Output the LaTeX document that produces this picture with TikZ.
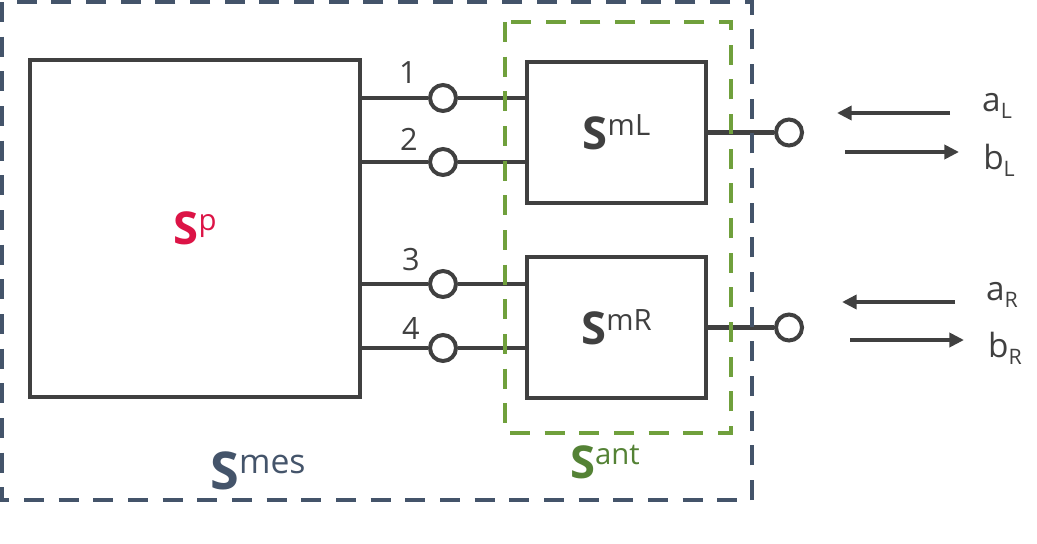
\documentclass[tikz,border=0pt]{standalone}
\usepackage{fontspec}
\setmainfont{Open Sans}
\usepackage{xcolor}
\usepackage{tikz}
\usetikzlibrary{positioning,arrows.meta}

\definecolor{dgray}{HTML}{404040}
\definecolor{mesblue}{HTML}{44546A}
\definecolor{antgreen}{HTML}{70A03C}
\definecolor{antdark}{HTML}{548235}
\definecolor{pred}{HTML}{DC1446}

\newcommand{\Sname}[1]{{\fontsize{34}{34}\selectfont\bfseries S}\raisebox{10.5pt}{\fontsize{22}{22}\selectfont #1}}
\newcommand{\wv}[2]{#1\raisebox{-5.5pt}{\fontsize{16}{16}\selectfont #2}}

\tikzset{
	blk/.style={draw=dgray,line width=3.4pt,inner sep=0pt,text=dgray},
	port/.style={circle,draw=dgray,line width=3pt,fill=white,minimum size=19.5pt,inner sep=0pt},
	wire/.style={draw=dgray,line width=3.4pt},
	flow/.style={draw=dgray,line width=3pt,-{Triangle[length=11pt,width=10.5pt]}},
	frame/.style={line width=3.6pt,dash pattern=on 15pt off 11pt},
	num/.style={text=dgray,font=\fontsize{23}{23}\selectfont},
	wave/.style={text=dgray,font=\fontsize{25}{25}\selectfont},
}

\begin{document}
\begin{tikzpicture}[x=0.75pt,y=-0.75pt]
	\useasboundingbox (0,0) rectangle (1037,543);
	% blocks
	\node[blk,minimum width=247.5pt,minimum height=252.75pt] (Sp) at (195,228.5) {\textcolor{pred}{\Sname{p}}};
	\node[blk,minimum width=134.25pt,minimum height=105.75pt] (SmL) at (616.5,132.5) {\Sname{mL}};
	\node[blk,minimum width=134.25pt,minimum height=105.75pt] (SmR) at (616.5,327.5) {\Sname{mR}};
	% ports 1-4
	\node[port] (p1) at (443,98) {};
	\node[port] (p2) at (443,162) {};
	\node[port] (p3) at (443,284) {};
	\node[port] (p4) at (443,348) {};
	\node[num] (n1) at (408,73) {1};
	\node[num] (n2) at (409,139) {2};
	\node[num] (n3) at (411,260) {3};
	\node[num] (n4) at (411,328) {4};
	\draw[wire] (Sp.east |- p1) -- (p1) -- (p1 -| SmL.west);
	\draw[wire] (Sp.east |- p2) -- (p2) -- (p2 -| SmL.west);
	\draw[wire] (Sp.east |- p3) -- (p3) -- (p3 -| SmR.west);
	\draw[wire] (Sp.east |- p4) -- (p4) -- (p4 -| SmR.west);
	% outputs
	\node[port] (oL) at (789,132.5) {};
	\node[port] (oR) at (789,327.5) {};
	\draw[wire] (SmL.east) -- (oL);
	\draw[wire] (SmR.east) -- (oR);
	% waves
	\node[wave] (aL) at (997,106) {\wv{a}{L}};
	\node[wave] (bL) at (999,160) {\wv{b}{L}};
	\node[wave] (aR) at (1002,295) {\wv{a}{R}};
	\node[wave] (bR) at (1005,348) {\wv{b}{R}};
	\coordinate (aLs) at (950,113);
	\coordinate (aLe) at (837,113);
	\coordinate (bLs) at (845,152);
	\coordinate (bLe) at (959,152);
	\coordinate (aRs) at (955,302);
	\coordinate (aRe) at (842,302);
	\coordinate (bRs) at (850,340);
	\coordinate (bRe) at (964,340);
	\draw[flow] (aLs) -- (aLe);
	\draw[flow] (bLs) -- (bLe);
	\draw[flow] (aRs) -- (aRe);
	\draw[flow] (bRs) -- (bRe);
	% frames
	\draw[frame,antgreen] (505,22) rectangle (731,433);
	\draw[frame,mesblue] (2,2) rectangle (752,500);
	\node[text=antdark] (Sant) at (605,462) {\Sname{ant}};
	\node[text=mesblue] (Smes) at (258,471) {\scalebox{1.15}{\Sname{mes}}};
\end{tikzpicture}
\end{document}
